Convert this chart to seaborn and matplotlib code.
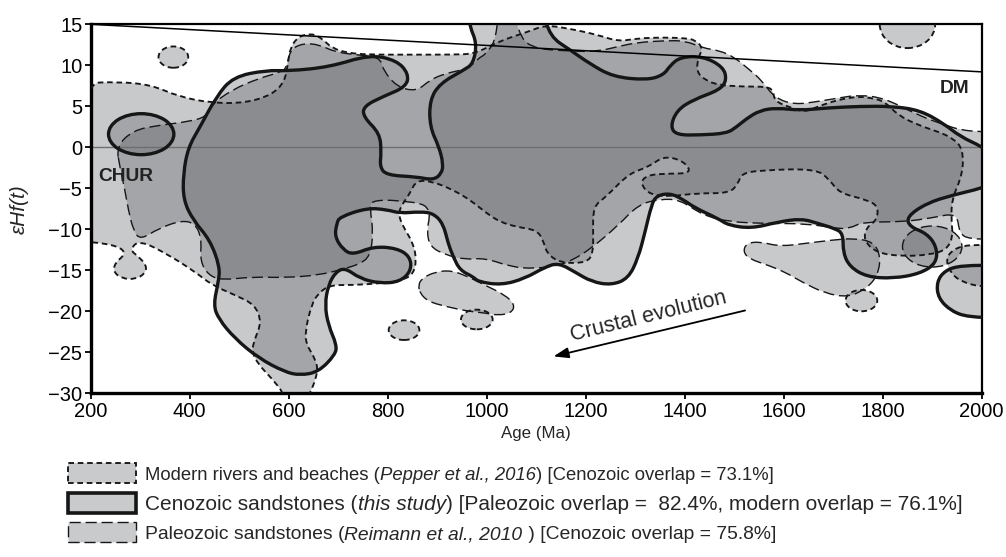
import matplotlib
matplotlib.use("Agg")
import numpy as np
import matplotlib.pyplot as plt
import seaborn as sns
from matplotlib.path import Path
from matplotlib.patches import PathPatch, Ellipse, Rectangle

# ---------------- data (Age in Ma, epsilon Hf(t)) ----------------
# Cenozoic sandstones (this study) - thick solid outlines
cen_main = [(387,-3.2),(397,0.0),(421,2.5),(454,6.2),(488,8.6),(555,9.4),(600,9.3),(683,9.8),(764,11.3),
            (818,10.6),(842,9.0),(838,7.4),(791,6.2),(751,5.0),(751,3.7),(784,1.7),(787,-0.6),(784,-2.4),
            (798,-3.4),(858,-3.6),(892,-4.0),(909,-3.2),(912,-2.0),(904,0.0),(885,2.5),(885,5.8),(906,7.8),
            (953,9.4),(973,10.2),(980,12.7),(966,14.7),(960,17),(1000,19),(1080,19),(1112,17),(1128,13.5),
            (1168,11.9),(1208,10.2),(1255,8.6),(1323,8.2),(1357,8.8),(1371,10.0),(1391,11.0),(1437,11.1),
            (1478,9.8),(1485,8.2),(1471,7.0),(1417,5.8),(1384,4.5),(1371,2.5),(1384,1.5),(1431,1.5),
            (1485,1.7),(1505,2.5),(1525,3.5),(1552,4.5),(1586,4.8),(1633,4.5),(1687,4.8),(1754,5.0),
            (1821,5.0),(1876,4.5),(1923,2.9),(1957,1.3),(2000,0.1),(2040,-1.5),(2040,-4.0),(2000,-5.0),
            (1943,-5.8),(1889,-6.8),(1848,-8.5),(1855,-9.7),(1889,-10.5),(1909,-12.1),(1909,-14.1),
            (1876,-15.4),(1821,-16.0),(1768,-15.8),(1734,-14.6),(1720,-12.9),(1720,-10.5),(1703,-9.9),
            (1670,-9.3),(1636,-8.7),(1589,-9.1),(1535,-9.9),(1488,-9.5),(1468,-8.7),(1421,-7.4),(1395,-6.3),
            (1370,-5.6),(1343,-5.9),(1333,-7.0),(1320,-10.3),(1306,-13.5),(1286,-16.0),(1252,-16.8),
            (1212,-16.4),(1178,-15.2),(1145,-14.1),(1118,-14.6),(1077,-16.0),(1030,-16.8),(983,-16.4),
            (973,-15.8),(946,-15.0),(932,-13.3),(922,-11.7),(912,-9.3),(892,-8.05),(865,-7.85),(825,-8.05),
            (798,-7.6),(758,-7.4),(703,-8.5),(697,-9.3),(693,-10.9),(710,-12.5),(730,-13.1),(771,-12.1),
            (818,-12.3),(845,-13.3),(848,-15.0),(825,-16.4),(784,-16.6),(744,-16.0),(714,-14.7),(695,-15.2),
            (680,-16.8),(673,-19.2),(680,-21.7),(697,-24.1),(694,-25.3),(660,-27.4),(623,-27.8),(592,-27.4),
            (539,-25.7),(491,-23.3),(458,-20.9),(448,-19.2),(458,-16.4),(461,-14.6),(441,-11.3),(407,-8.9),
            (387,-6.4)]
cen_right = [(2040,-14.4),(1959,-14.4),(1926,-15.0),(1909,-16.4),(1912,-18.4),(1939,-20.0),(1973,-20.7),
             (2040,-20.8)]
cen_chur = (302, 1.6, 132, 5.0)          # centre age, centre eHf, width, height

# Modern rivers and beaches (Pepper et al., 2016) - short dashes
mod_main = [(180,7.8),(256,8.0),(323,7.6),(377,6.2),(444,5.4),(512,5.4),(566,6.4),(592,8.0),(599,10.4),
            (603,12.1),(619,13.5),(646,13.9),(667,13.3),(687,12.1),(720,11.5),(761,11.3),(850,11.3),
            (930,11.3),(977,11.4),(1023,12.9),(1084,14.1),(1118,14.9),(1165,14.5),(1225,13.7),(1266,12.9),
            (1306,13.3),(1360,13.4),(1401,13.3),(1421,13.1),(1437,12.1),(1427,10.9),(1424,9.2),(1441,8.2),
            (1468,7.6),(1515,7.4),(1569,7.4),(1579,6.8),(1582,5.6),(1616,4.8),(1643,4.3),(1670,5.0),
            (1710,5.8),(1751,6.2),(1778,6.0),(1804,5.6),(1831,3.9),(1872,2.7),(1912,1.9),(1942,1.1),
            (1962,-0.2),(1962,-3.2),(1939,-6.4),(1939,-9.3),(1942,-10.9),(1929,-12.5),(1895,-13.1),
            (1842,-13.3),(1788,-12.9),(1761,-11.3),(1768,-9.7),(1788,-8.9),(1791,-7.2),(1768,-6.4),
            (1713,-5.6),(1693,-4.0),(1666,-2.6),(1552,-2.8),(1515,-3.2),(1508,-4.4),(1491,-5.6),(1424,-5.6),
            (1371,-6.0),(1330,-5.8),(1310,-4.4),(1323,-3.4),(1364,-3.2),(1404,-3.2),(1411,-2.6),(1391,-1.5),
            (1357,-1.1),(1327,-2.4),(1287,-3.2),(1242,-6.0),(1215,-7.2),(1215,-10.5),(1215,-12.9),
            (1202,-14.1),(1148,-14.1),(1121,-12.9),(1114,-11.3),(1101,-10.1),(1060,-9.7),(1027,-9.1),
            (1000,-8.05),(966,-6.4),(932,-5.2),(892,-4.2),(858,-4.0),(845,-5.6),(831,-6.8),(821,-8.05),
            (831,-9.7),(852,-11.7),(858,-13.8),(852,-15.4),(831,-16.2),(784,-16.6),(730,-16.8),(683,-16.8),
            (660,-17.8),(646,-19.2),(633,-22.5),(636,-24.1),(653,-25.7),(660,-27.4),(640,-30.5),(620,-32),
            (600,-32),(590,-30),(566,-28.2),(539,-26.5),(525,-24.9),(532,-23.3),(545,-21.3),(532,-19.2),
            (491,-18.0),(445,-16.8),(411,-15.2),(357,-13.1),(298,-11.3),(279,-12.5),(296,-13.3),(313,-14.4),
            (310,-15.4),(290,-16.1),(263,-16.0),(246,-15.2),(249,-14.1),(269,-13.1),(263,-12.3),(229,-11.7),
            (180,-11.5)]
mod_right = [(2040,-11.9),(1996,-11.9),(1960,-12.0),(1935,-12.8),(1928,-14.0),(1940,-15.5),(1960,-16.4),
             (1996,-17.0),(2040,-17.0)]
mod_blobs = [(367,11.0,60,2.6),(833,-22.3,62,2.4),(980,-21.0,64,2.4),(1757,-18.7,64,2.6),(1850,15.0,112,5.8)]

# Paleozoic sandstones (Reimann et al., 2010) - long dashes
pal_main = [(252,0.1),(286,2.1),(340,2.7),(394,3.1),(434,3.7),(444,5.2),(485,7.0),(539,8.4),(586,9.2),
            (596,9.8),(603,11.9),(629,12.7),(663,12.5),(690,11.7),(730,11.3),(784,11.05),(791,9.4),(818,7.4),
            (858,6.8),(885,8.2),(916,9.0),(963,9.6),(984,10.9),(997,11.3),(1017,12.9),(1023,16),(1040,18),
            (1058,16),(1062,14.5),(1084,12.1),(1172,11.7),(1225,11.7),(1266,12.3),(1306,12.8),(1360,13.0),
            (1401,13.0),(1437,12.1),(1470,11.8),(1500,11.0),(1530,9.5),(1555,8.2),(1582,6.0),(1623,5.2),
            (1670,5.6),(1710,6.0),(1751,6.4),(1804,6.0),(1872,3.9),(1926,2.7),(1959,2.1),(1996,1.9),
            (2040,1.9),(2040,-11.2),(1975,-11.2),(1955,-10.5),(1950,-8.0),(1900,-8.6),(1842,-9.1),(1760,-9.1),
            (1733,-9.9),(1707,-9.9),(1646,-9.3),(1565,-9.3),(1491,-9.1),(1437,-8.3),(1391,-6.4),(1350,-6.3),
            (1306,-7.0),(1266,-9.5),(1212,-12.3),(1172,-13.8),(1145,-14.4),(1097,-14.8),(1050,-14.6),
            (997,-13.5),(956,-13.7),(916,-13.1),(885,-12.1),(879,-10.1),(885,-8.5),(882,-7.4),(865,-6.8),
            (831,-6.6),(798,-6.4),(767,-6.6),(764,-7.3),(771,-10.5),(764,-13.3),(744,-14.2),(714,-14.8),
            (660,-15.6),(592,-15.9),(525,-15.8),(465,-16.2),(438,-15.6),(421,-13.9),(424,-11.1),(411,-9.3),
            (384,-8.9),(337,-9.9),(300,-11.3),(286,-10.1),(276,-7.6),(269,-5.2),(259,-2.4)]
pal_blob_a = [(862,-16.8),(869,-16.0),(895,-15.2),(929,-15.0),(963,-15.8),(996,-16.8),(1037,-18.0),
              (1057,-19.2),(1050,-20.2),(1023,-20.5),(996,-20.2),(963,-20.0),(916,-19.4),(882,-18.8),
              (865,-17.8)]
pal_blob_b = [(1518,-12.7),(1525,-11.7),(1552,-11.5),(1592,-12.1),(1646,-11.7),(1700,-11.3),(1740,-11.1),
              (1781,-11.5),(1796,-13.3),(1790,-15.6),(1768,-17.2),(1730,-18.3),(1683,-17.8),(1636,-16.4),
              (1602,-15.2),(1569,-14.4),(1530,-13.6)]
pal_ellipse = (1900, -12.1, 120, 5.0)

# Depleted mantle line and axis ticks
dm_age = [200, 2000]
dm_ehf = [15.0, 9.2]
x_ticks = [200, 400, 600, 800, 1000, 1200, 1400, 1600, 1800, 2000]
y_ticks = [-30, -25, -20, -15, -10, -5, 0, 5, 10, 15]
arrow_from = (1522, -19.9)
arrow_to = (1135, -25.5)

legend_rows = [
    ("M", [("Modern rivers and beaches (", "normal"), ("Pepper et al., 2016", "italic"),
           (") [Cenozoic overlap = 73.1%]", "normal")]),
    ("C", [("Cenozoic sandstones (", "normal"), ("this study", "italic"),
           (") [Paleozoic overlap =  82.4%, modern overlap = 76.1%]", "normal")]),
    ("P", [("Paleozoic sandstones (", "normal"), ("Reimann et al., 2010", "italic"),
           (" ) [Cenozoic overlap = 75.8%]", "normal")]),
]
legend_size = [13.3, 15.0, 13.9]

# ---------------- figure ----------------
W, H = 1006, 557
sns.set_style("ticks")
plt.rcParams["font.family"] = ["Liberation Sans", "DejaVu Sans"]
plt.rcParams["axes.unicode_minus"] = True

fig = plt.figure(figsize=(W / 100, H / 100), dpi=100)
ax = fig.add_axes([90.7 / W, 1 - 393.3 / H, 891 / W, 369 / H])

FILL = (0.35, 0.36, 0.38)
ALPHA = 0.33
EDGE = "#161616"
STY = {"M": dict(lw=1.35, ls=(0, (3.0, 2.0))),
       "P": dict(lw=1.0, ls=(0, (8.0, 3.5))),
       "C": dict(lw=2.4, ls="solid")}


def spline_path(pts):
    p = np.asarray(pts, float)
    m = (p + np.roll(p, -1, axis=0)) / 2
    verts = [m[-1]]
    codes = [Path.MOVETO]
    for i in range(len(p)):
        verts += [p[i], m[i]]
        codes += [Path.CURVE3, Path.CURVE3]
    return Path(verts, codes)


polys = [("P", pal_main), ("P", pal_blob_a), ("P", pal_blob_b),
         ("M", mod_main), ("M", mod_right),
         ("C", cen_main), ("C", cen_right)]
ells = [("P", pal_ellipse), ("C", cen_chur)] + [("M", b) for b in mod_blobs]

for kind, poly in polys:
    ax.add_patch(PathPatch(spline_path(poly), facecolor=FILL, alpha=ALPHA, edgecolor="none", zorder=1))
for kind, (cx, cy, w, h) in ells:
    ax.add_patch(Ellipse((cx, cy), w, h, facecolor=FILL, alpha=ALPHA, edgecolor="none", zorder=1))

ax.axhline(0, color="#6e6e6e", lw=1.0, zorder=2)

for kind, poly in polys:
    s = STY[kind]
    ax.add_patch(PathPatch(spline_path(poly), fill=False, edgecolor=EDGE, lw=s["lw"], linestyle=s["ls"],
                           zorder=3 if kind != "C" else 4))
for kind, (cx, cy, w, h) in ells:
    s = STY[kind]
    ax.add_patch(Ellipse((cx, cy), w, h, fill=False, edgecolor=EDGE, lw=s["lw"], linestyle=s["ls"],
                         zorder=3 if kind != "C" else 4))

sns.lineplot(x=dm_age, y=dm_ehf, color="black", linewidth=1.1, ax=ax, zorder=5, legend=False)

ax.annotate("", xy=arrow_to, xytext=arrow_from,
            arrowprops=dict(arrowstyle="-|>,head_length=0.9,head_width=0.32", color="black", lw=1.3,
                            shrinkA=0, shrinkB=0), zorder=6)
ax.text(1330, -21.3, "Crustal evolution", rotation=13.8, rotation_mode="anchor", ha="center",
        va="baseline", fontsize=15.5, zorder=6)
ax.text(215, -3.6, "CHUR", ha="left", va="center", fontweight="bold",
        fontsize=13.8, color="#222222", zorder=6)
ax.text(1946, 7.2, "DM", ha="center", va="center", fontweight="bold",
        fontsize=13.8, color="#222222", zorder=6)

ax.set_xlim(200, 2000)
ax.set_ylim(-30, 15)
ax.set_xticks(x_ticks)
ax.set_yticks(y_ticks)
ax.tick_params(direction="out", length=4, width=1.3, colors="black", labelsize=14.5, pad=2)
for side, lw in [("left", 2.4), ("bottom", 2.4), ("top", 1.6), ("right", 1.6)]:
    ax.spines[side].set_linewidth(lw)
    ax.spines[side].set_color("black")
ax.set_xlabel("Age (Ma)", fontsize=12.2)
ax.xaxis.set_label_coords(0.5, -0.088)
ax.set_ylabel("εHf(t)", fontsize=15, style="italic")
ax.yaxis.set_label_coords((29 - 90.7) / 891, 0.5)

# ---------------- legend ----------------
renderer = fig.canvas.get_renderer()
row_base = [480, 510, 539]
box_x0, box_w, box_h = 68, 68, 20
for (kind, parts), yb, fs in zip(legend_rows, row_base, legend_size):
    s = STY[kind]
    rect_kw = dict(transform=fig.transFigure, facecolor="#c9cacc", edgecolor=EDGE,
                   lw=s["lw"] if kind != "C" else 2.6, linestyle=s["ls"])
    fig.add_artist(Rectangle((box_x0 / W, 1 - (yb + 3) / H), box_w / W, box_h / H, **rect_kw))
    x = 145
    for txt, st in parts:
        t = fig.text(x / W, 1 - yb / H, txt, style=st, ha="left", va="baseline", fontsize=fs)
        x += t.get_window_extent(renderer=renderer).width

fig.savefig("out.png", dpi=100)
